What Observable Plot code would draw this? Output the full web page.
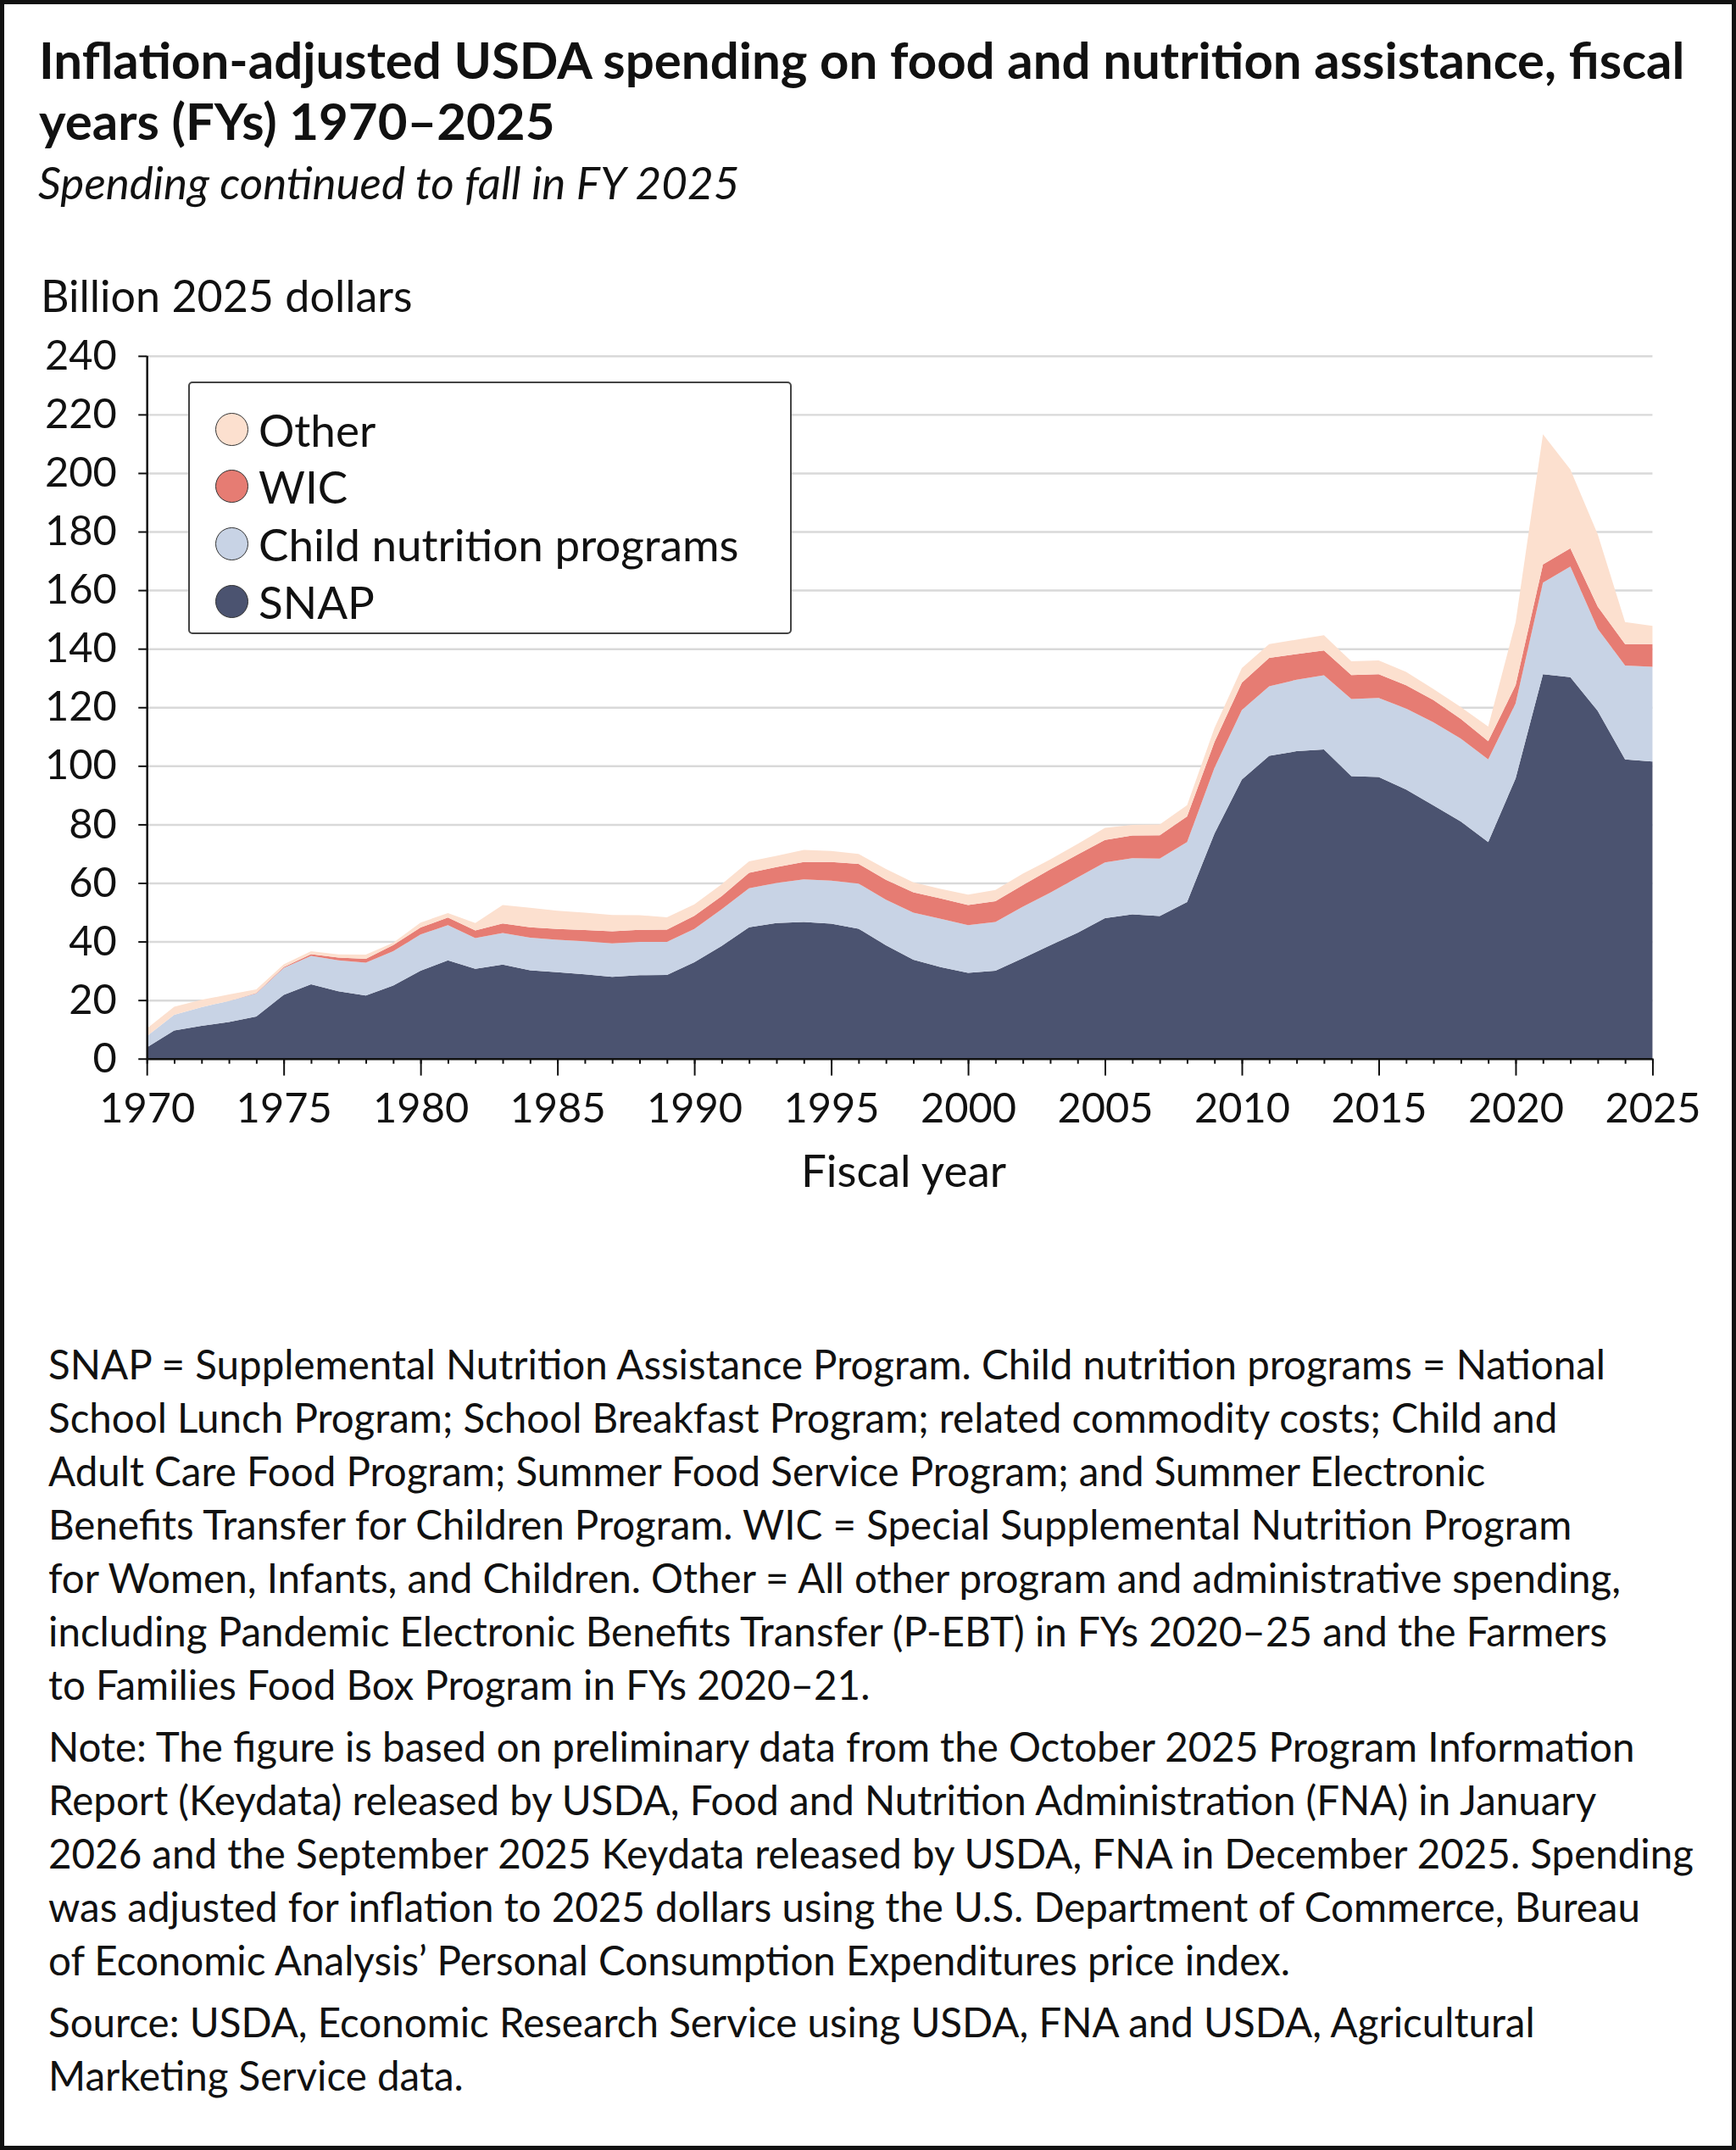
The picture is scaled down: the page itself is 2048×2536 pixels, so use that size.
<!DOCTYPE html>
<html>
<head>
<meta charset="utf-8">
<script src="https://cdn.jsdelivr.net/npm/d3@7"></script>
<script src="https://cdn.jsdelivr.net/npm/@observablehq/plot@0.6"></script>
<style>
  html, body { margin: 0; padding: 0; background: #fff; }
  #fig { position: relative; width: 2048px; height: 2536px; box-sizing: border-box; border: 5px solid #111; font-family: Lato, "Noto Sans", sans-serif; color: #111; overflow: hidden; }
  .abs { position: absolute; white-space: nowrap; }
  #title { left: 41px; top: 29px; font-size: 60px; line-height: 72px; font-weight: 700; }
  #subtitle { left: 40px; top: 180px; font-size: 53px; line-height: 60px; font-style: italic; }
  #ylabel { left: 43px; top: 313px; font-size: 52px; line-height: 60px; }
  #xlabel { left: 861px; width: 400px; text-align: center; top: 1345px; font-size: 53px; line-height: 60px; }
  #chart { left: 0; top: 375px; }
  #legend { left: 217px; top: 445px; width: 712px; height: 298px; box-sizing: border-box; border: 2px solid #444; border-radius: 5px; background: #fff; }
  .li { position: absolute; left: 30px; height: 40px; display: flex; align-items: center; font-size: 53px; }
  .sw { width: 39px; height: 39px; border-radius: 50%; border: 1.5px solid #333; box-sizing: border-box; margin-right: 12px; flex: none; }
  #notes { left: 52px; top: 1572px; font-size: 47.5px; line-height: 63px; }
  #notes p { margin: 0 0 10px 0; }
</style>
</head>
<body>
<div id="fig">
  <div id="title" class="abs">Inflation-adjusted USDA spending on food and nutrition assistance, fiscal<br>years (FYs) 1970–2025</div>
  <div id="subtitle" class="abs">Spending continued to fall in FY 2025</div>
  <div id="ylabel" class="abs">Billion 2025 dollars</div>
  <div id="chart" class="abs"></div>
  <div id="legend" class="abs"></div>
  <div id="xlabel" class="abs">Fiscal year</div>
  <div id="notes" class="abs">
    <p>SNAP = Supplemental Nutrition Assistance Program. Child nutrition programs = National<br>School Lunch Program; School Breakfast Program; related commodity costs; Child and<br>Adult Care Food Program; Summer Food Service Program; and Summer Electronic<br>Benefits Transfer for Children Program. WIC = Special Supplemental Nutrition Program<br>for Women, Infants, and Children. Other = All other program and administrative spending,<br>including Pandemic Electronic Benefits Transfer (P-EBT) in FYs 2020–25 and the Farmers<br>to Families Food Box Program in FYs 2020–21.</p>
    <p>Note: The figure is based on preliminary data from the October 2025 Program Information<br>Report (Keydata) released by USDA, Food and Nutrition Administration (FNA) in January<br>2026 and the September 2025 Keydata released by USDA, FNA in December 2025. Spending<br>was adjusted for inflation to 2025 dollars using the U.S. Department of Commerce, Bureau<br>of Economic Analysis’ Personal Consumption Expenditures price index.</p>
    <p>Source: USDA, Economic Research Service using USDA, FNA and USDA, Agricultural<br>Marketing Service data.</p>
  </div>
</div>
<script>
// Fiscal years
const years = [1970,1971,1972,1973,1974,1975,1976,1977,1978,1979,
  1980,1981,1982,1983,1984,1985,1986,1987,1988,1989,
  1990,1991,1992,1993,1994,1995,1996,1997,1998,1999,
  2000,2001,2002,2003,2004,2005,2006,2007,2008,2009,
  2010,2011,2012,2013,2014,2015,2016,2017,2018,2019,
  2020,2021,2022,2023,2024,2025];

// Billion 2025 dollars
const snap = [3.8,9.6,11.2,12.5,14.4,21.8,25.4,23.0,21.6,25.0,
  30.0,33.6,30.7,32.1,30.2,29.5,28.8,27.9,28.5,28.6,
  32.9,38.5,44.9,46.3,46.7,46.1,44.4,38.7,33.8,31.3,
  29.3,30.0,34.3,38.7,43.0,48.0,49.3,48.7,53.5,76.9,
  95.3,103.4,105.0,105.6,96.5,96.2,91.9,86.5,81.0,74.0,
  95.7,131.3,130.3,118.8,102.2,101.5];
const childNutrition = [3.9,5.4,6.4,7.2,7.9,9.2,9.7,10.6,11.2,11.7,
  12.4,12.0,10.5,10.8,11.1,11.1,11.3,11.5,11.4,11.3,
  11.4,12.5,13.3,13.7,14.5,14.7,15.4,15.6,16.1,16.5,
  16.3,16.7,17.6,18.0,18.9,19.0,19.2,19.6,20.5,22.4,
  23.8,23.8,24.4,25.3,26.3,27.0,27.7,28.4,28.3,28.2,
  25.6,31.3,37.8,28.0,32.1,32.3];
const wic = [0,0,0,0,0.1,0.3,0.6,0.9,1.3,2.1,
  2.4,2.6,2.6,3.3,3.6,3.7,3.8,4.1,4.1,4.2,
  4.5,4.5,5.3,5.4,6.0,6.4,6.7,6.8,6.9,6.9,
  6.9,7.1,7.4,7.9,7.8,7.7,7.7,8.0,8.7,8.8,
  9.3,9.7,8.8,8.5,8.2,8.1,7.9,7.6,6.7,6.2,
  6.2,6.2,6.2,7.6,7.3,7.8];
const other = [2.6,2.7,2.5,2.2,1.3,0.9,1.0,1.1,1.4,0.8,
  1.7,1.5,2.5,6.3,6.6,6.2,6.0,5.6,5.0,4.2,
  3.9,4.1,3.9,3.9,4.1,3.7,3.4,3.7,3.4,3.3,
  3.5,3.8,3.9,3.4,3.6,4.1,3.6,3.7,3.9,4.8,
  5.0,4.7,4.9,5.2,4.7,4.7,4.6,3.7,4.1,5.0,
  21.5,44.4,26.9,24.7,7.5,6.2];

const seriesNames = ["SNAP", "Child nutrition programs", "WIC", "Other"];
const seriesColors = ["#4b5370", "#c8d3e5", "#e67c73", "#fce0cf"];
const seriesValues = [snap, childNutrition, wic, other];

const yTicks = [0,20,40,60,80,100,120,140,160,180,200,220,240];
const xMajorTicks = [1970,1975,1980,1985,1990,1995,2000,2005,2010,2015,2020,2025];

const rows = [];
years.forEach((yr, i) => {
  seriesNames.forEach((s, k) => rows.push({year: yr, series: s, value: seriesValues[k][i]}));
});

const font = "Lato, 'Noto Sans', sans-serif";
const chart = Plot.plot({
  width: 2048,
  height: 985,
  marginLeft: 169,
  marginRight: 94,
  marginTop: 40,
  marginBottom: 112,
  style: {fontFamily: font, color: "#111", background: "transparent", overflow: "visible"},
  x: {domain: [1970, 2025], label: null},
  y: {domain: [0, 240], label: null},
  color: {domain: seriesNames, range: seriesColors},
  marks: [
    Plot.ruleY(yTicks.filter(d => d > 0), {stroke: "#d9d9d9", strokeWidth: 2.5}),
    Plot.areaY(rows, {x: "year", y: "value", z: "series", fill: "series", order: seriesNames, curve: "linear"}),
    Plot.axisY({ticks: yTicks, tickSize: 10, tickPadding: 26, fontSize: 49, stroke: "#111", strokeWidth: 2, tickFormat: d => String(d), label: null}),
    Plot.axisX({ticks: years, tickSize: 6, text: null, stroke: "#111", strokeWidth: 2, label: null}),
    Plot.axisX({ticks: xMajorTicks, tickSize: 20, tickPadding: 20, fontSize: 49, stroke: "#111", strokeWidth: 2, tickFormat: d => String(d), label: null}),
    Plot.ruleX([1970], {y1: 0, y2: 240, stroke: "#111", strokeWidth: 2.5}),
    Plot.ruleY([0], {stroke: "#111", strokeWidth: 2.5})
  ]
});
document.getElementById("chart").appendChild(chart);

// Legend (top to bottom: Other, WIC, Child, SNAP)
const legend = document.getElementById("legend");
const legendOrder = [3, 2, 1, 0];
const rowCenters = [54, 121, 189, 257];
legendOrder.forEach((k, j) => {
  const item = document.createElement("div");
  item.className = "li";
  item.style.top = (rowCenters[j] - 20) + "px";
  const sw = document.createElement("span");
  sw.className = "sw";
  sw.style.background = seriesColors[k];
  const tx = document.createElement("span");
  tx.textContent = seriesNames[k];
  item.appendChild(sw);
  item.appendChild(tx);
  legend.appendChild(item);
});
</script>
</body>
</html>
